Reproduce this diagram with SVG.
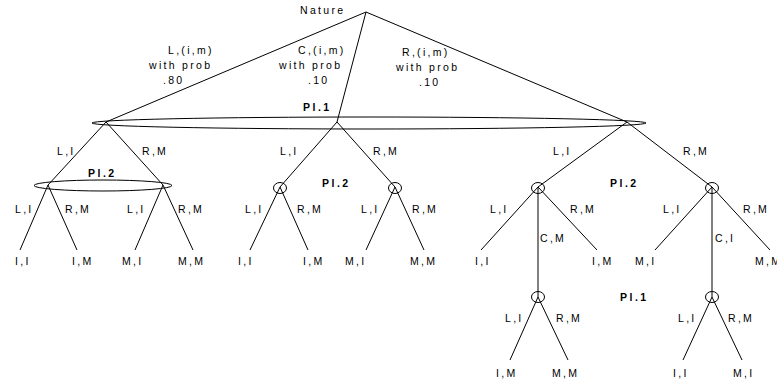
<svg xmlns="http://www.w3.org/2000/svg" width="777" height="383" viewBox="0 0 777 383">
<style>
  .e { stroke: #000; stroke-width: 1; fill: none; }
  .t { font-family: "Liberation Sans", Arial, sans-serif; font-size: 10.5px; letter-spacing: 2.3px; fill: #000; }
  .b { font-family: "Liberation Sans", Arial, sans-serif; font-size: 10.5px; font-weight: bold; letter-spacing: 2.5px; fill: #000; }
  .s { stroke: #000; stroke-width: 1; fill: none; }
</style>
<rect width="777" height="383" fill="#fff"/>
<g id="connectors">
  <line class="e" x1="366" y1="12" x2="106" y2="122"/>
  <line class="e" x1="366" y1="12" x2="337" y2="122"/>
  <line class="e" x1="366" y1="12" x2="627" y2="122"/>
  <line class="e" x1="106" y1="122" x2="48" y2="185"/>
  <line class="e" x1="106" y1="122" x2="163" y2="185"/>
  <line class="e" x1="337" y1="122" x2="280" y2="187"/>
  <line class="e" x1="337" y1="122" x2="395" y2="187"/>
  <line class="e" x1="627" y1="122" x2="538" y2="187"/>
  <line class="e" x1="627" y1="122" x2="712" y2="187"/>
  <line class="e" x1="48" y1="185" x2="20" y2="250"/>
  <line class="e" x1="48" y1="185" x2="77" y2="250"/>
  <line class="e" x1="163" y1="185" x2="135" y2="250"/>
  <line class="e" x1="163" y1="185" x2="193" y2="250"/>
  <line class="e" x1="280" y1="187" x2="250" y2="250"/>
  <line class="e" x1="280" y1="187" x2="308" y2="250"/>
  <line class="e" x1="395" y1="187" x2="366" y2="250"/>
  <line class="e" x1="395" y1="187" x2="424" y2="250"/>
  <line class="e" x1="538" y1="187" x2="481" y2="250"/>
  <line class="e" x1="538" y1="187" x2="597" y2="250"/>
  <line class="e" x1="538" y1="187" x2="538" y2="297"/>
  <line class="e" x1="712" y1="187" x2="655" y2="250"/>
  <line class="e" x1="712" y1="187" x2="770" y2="250"/>
  <line class="e" x1="712" y1="187" x2="712" y2="297"/>
  <line class="e" x1="538" y1="297" x2="510" y2="360"/>
  <line class="e" x1="538" y1="297" x2="568" y2="360"/>
  <line class="e" x1="712" y1="297" x2="683" y2="360"/>
  <line class="e" x1="712" y1="297" x2="742" y2="360"/>
</g>
<g id="nature">
  <text class="t" x="300" y="14">Nature</text>
</g>
<g id="chance-labels">
  <text class="t" x="168" y="54">L,(i,m)</text>
  <text class="t" x="149" y="69">with prob</text>
  <text class="t" x="163" y="84">.80</text>
  <text class="t" x="298" y="54">C,(i,m)</text>
  <text class="t" x="279" y="69">with prob</text>
  <text class="t" x="308" y="84">.10</text>
  <text class="t" x="402" y="56">R,(i,m)</text>
  <text class="t" x="396" y="71">with prob</text>
  <text class="t" x="419" y="86">.10</text>
</g>
<g id="pl1-info">
  <ellipse class="s" cx="369" cy="123" rx="277" ry="6"/>
  <text class="b" x="303" y="111">Pl.1</text>
</g>
<g id="pl2-left">
  <ellipse class="s" cx="103" cy="185.5" rx="69" ry="5.5"/>
  <text class="b" x="88" y="177">Pl.2</text>
</g>
<g id="pl2-middle">
  <ellipse class="s" cx="280" cy="188" rx="6.5" ry="5.5"/>
  <ellipse class="s" cx="395" cy="188" rx="6.5" ry="5.5"/>
  <text class="b" x="322" y="187">Pl.2</text>
</g>
<g id="pl2-right">
  <ellipse class="s" cx="538" cy="188" rx="6.5" ry="5.5"/>
  <ellipse class="s" cx="712" cy="188" rx="6.5" ry="5.5"/>
  <text class="b" x="610" y="187">Pl.2</text>
</g>
<g id="pl1-bottom">
  <ellipse class="s" cx="538" cy="297" rx="6.5" ry="5.5"/>
  <ellipse class="s" cx="712" cy="297" rx="6.5" ry="5.5"/>
  <text class="b" x="620" y="301">Pl.1</text>
</g>
<g id="edge-labels">
  <text class="t" x="57" y="155">L,I</text>
  <text class="t" x="142" y="155">R,M</text>
  <text class="t" x="280" y="155">L,I</text>
  <text class="t" x="373" y="155">R,M</text>
  <text class="t" x="553" y="155">L,I</text>
  <text class="t" x="683" y="155">R,M</text>
  <text class="t" x="15" y="213">L,I</text>
  <text class="t" x="65" y="213">R,M</text>
  <text class="t" x="127" y="213">L,I</text>
  <text class="t" x="178" y="213">R,M</text>
  <text class="t" x="245" y="213">L,I</text>
  <text class="t" x="297" y="213">R,M</text>
  <text class="t" x="361" y="213">L,I</text>
  <text class="t" x="412" y="213">R,M</text>
  <text class="t" x="490" y="213">L,I</text>
  <text class="t" x="570" y="213">R,M</text>
  <text class="t" x="540" y="242">C,M</text>
  <text class="t" x="663" y="213">L,I</text>
  <text class="t" x="743" y="213">R,M</text>
  <text class="t" x="715" y="242">C,I</text>
  <text class="t" x="505" y="322">L,I</text>
  <text class="t" x="556" y="322">R,M</text>
  <text class="t" x="678" y="322">L,I</text>
  <text class="t" x="728" y="322">R,M</text>
</g>
<g id="leaves">
  <text class="t" x="15" y="265">I,I</text>
  <text class="t" x="72" y="265">I,M</text>
  <text class="t" x="122" y="265">M,I</text>
  <text class="t" x="178" y="265">M,M</text>
  <text class="t" x="238" y="265">I,I</text>
  <text class="t" x="303" y="265">I,M</text>
  <text class="t" x="345" y="265">M,I</text>
  <text class="t" x="410" y="265">M,M</text>
  <text class="t" x="475" y="265">I,I</text>
  <text class="t" x="592" y="265">I,M</text>
  <text class="t" x="635" y="265">M,I</text>
  <text class="t" x="755" y="265">M,M</text>
  <text class="t" x="496" y="377">I,M</text>
  <text class="t" x="552" y="377">M,M</text>
  <text class="t" x="673" y="377">I,I</text>
  <text class="t" x="733" y="377">M,I</text>
</g>
</svg>
